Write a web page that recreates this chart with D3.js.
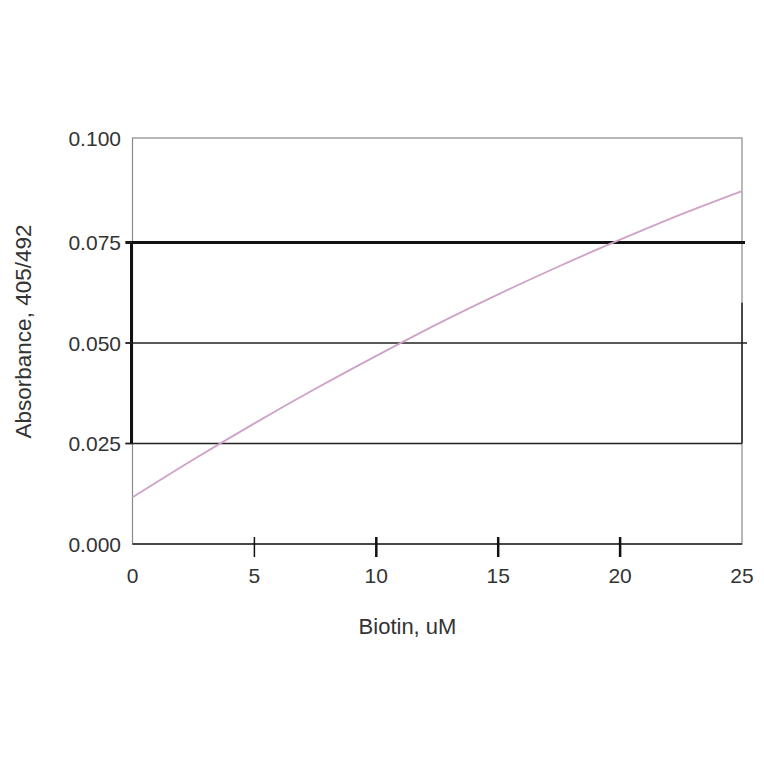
<!DOCTYPE html>
<html><head><meta charset="utf-8">
<script src="https://cdn.jsdelivr.net/npm/d3@7"></script>
<style>body{margin:0;background:#fff}svg{display:block}</style>
</head><body>
<svg id="c" width="764" height="764"></svg>
<script>
const biotin = [0, 2.5, 5, 7.5, 10, 12.5, 15, 17.5, 20, 22.5, 25];
const absorbance = [0.0116, 0.0210, 0.0300, 0.0386, 0.0468, 0.0547, 0.0621, 0.0691, 0.0757, 0.0820, 0.0878];
const xTicks = [0, 5, 10, 15, 20, 25];
const yTicks = [0, 0.025, 0.05, 0.075, 0.1];
const yTickLabels = ["0.000", "0.025", "0.050", "0.075", "0.100"];
const xLabel = "Biotin, uM";
const yLabel = "Absorbance, 405/492";

const svg = d3.select("#c");
const L = 132.5, R = 742, T = 138, B = 544;
const x = d3.scaleLinear().domain([0, 25]).range([L, R]);
const y = d3.scaleLinear().domain([0, 0.1]).range([B, 142]);
const font = "'Liberation Sans', Arial, sans-serif";

// frame (gray)
svg.append("rect").attr("x", L).attr("y", T).attr("width", R - L).attr("height", B - T)
  .attr("fill", "none").attr("stroke", "#8a8a8a").attr("stroke-width", 1.2);

// gridlines
svg.append("line").attr("x1", L - 7).attr("x2", R + 5).attr("y1", y(0.05)).attr("y2", y(0.05))
  .attr("stroke", "#222").attr("stroke-width", 1.4);
svg.append("line").attr("x1", L - 7).attr("x2", R).attr("y1", y(0.025)).attr("y2", y(0.025))
  .attr("stroke", "#222").attr("stroke-width", 1.4);
svg.append("line").attr("x1", L - 7).attr("x2", R + 3).attr("y1", y(0.075)).attr("y2", y(0.075))
  .attr("stroke", "#111").attr("stroke-width", 3);

// thick left segment
svg.append("line").attr("x1", L - 1).attr("x2", L - 1).attr("y1", y(0.075)).attr("y2", y(0.025))
  .attr("stroke", "#111").attr("stroke-width", 3);
// dark right segment
svg.append("line").attr("x1", R).attr("x2", R).attr("y1", y(0.06)).attr("y2", y(0.025))
  .attr("stroke", "#222").attr("stroke-width", 1.5);

// bottom axis
svg.append("line").attr("x1", L).attr("x2", R).attr("y1", B).attr("y2", B)
  .attr("stroke", "#222").attr("stroke-width", 1.5);

// x ticks
svg.append("g").selectAll("line").data(xTicks.filter(d => d > 0 && d < 25)).join("line")
  .attr("x1", d => x(d)).attr("x2", d => x(d)).attr("y1", B - 7).attr("y2", B + 13)
  .attr("stroke", "#111").attr("stroke-width", d => d === 5 ? 1.5 : 2.5);

// y ticks
svg.append("g").selectAll("line").data(yTicks.filter(d => d > 0 && d < 0.1)).join("line")
  .attr("x1", L - 7).attr("x2", L).attr("y1", d => y(d)).attr("y2", d => y(d))
  .attr("stroke", "#222").attr("stroke-width", 1.4);

// tick labels
svg.append("g").selectAll("text").data(xTicks).join("text")
  .attr("x", d => x(d)).attr("y", 583).attr("text-anchor", "middle")
  .attr("font-family", font).attr("font-size", 21).attr("fill", "#333").text(d => d);
svg.append("g").selectAll("text").data(yTicks).join("text")
  .attr("x", 121).attr("y", d => d === 0.1 ? T : y(d)).attr("dy", "0.36em").attr("text-anchor", "end")
  .attr("font-family", font).attr("font-size", 21).attr("fill", "#333").text((d, i) => yTickLabels[i]);

// axis titles
svg.append("text").attr("x", 407.5).attr("y", 634).attr("text-anchor", "middle")
  .attr("font-family", font).attr("font-size", 22).attr("fill", "#333").text(xLabel);
svg.append("text").attr("transform", "translate(31,331.5) rotate(-90)").attr("text-anchor", "middle")
  .attr("font-family", font).attr("font-size", 22.5).attr("fill", "#333").text(yLabel);

// curve
const pts = biotin.map((b, i) => [b, absorbance[i]]);
svg.append("path").datum(pts)
  .attr("d", d3.line().x(d => x(d[0])).y(d => y(d[1])).curve(d3.curveMonotoneX))
  .attr("fill", "none").attr("stroke", "#cfa2c8").attr("stroke-width", 1.8);
</script>
</body></html>
